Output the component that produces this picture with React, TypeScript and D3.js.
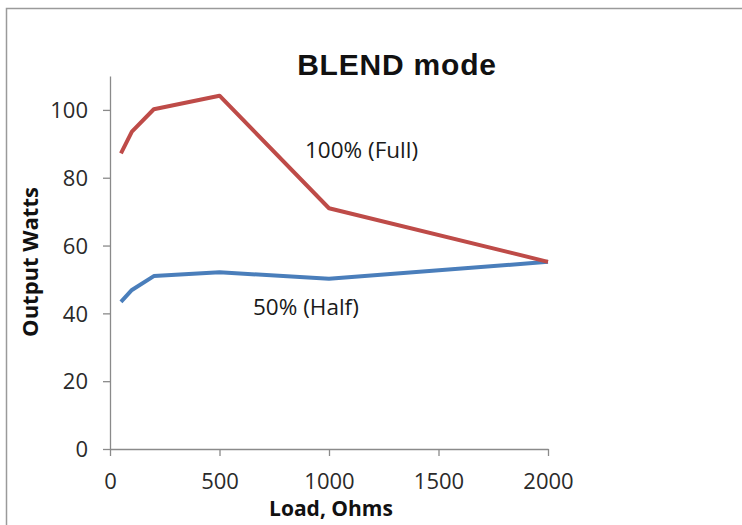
import React, { useEffect, useRef } from 'react';
import * as d3 from 'd3';

// Load in ohms and output power in watts
const loads = [50, 100, 200, 500, 1000, 2000];
const fullWatts = [87.2, 93.6, 100.2, 104.2, 71, 55.2];
const halfWatts = [43.4, 46.9, 51, 52.1, 50.2, 55.2];
const xTicks = [0, 500, 1000, 1500, 2000];
const yTicks = [0, 20, 40, 60, 80, 100];

const W = 742;
const H = 525;
const labelFont = "'Open Sans', 'Noto Sans', sans-serif";

const App: React.FC = () => {
  const svgRef = useRef<SVGSVGElement>(null);

  useEffect(() => {
    if (!svgRef.current) return;
    const svg = d3.select(svgRef.current);
    svg.selectAll('*').remove();

    const x = d3.scaleLinear().domain([0, 2000]).range([110, 548]);
    const y = d3.scaleLinear().domain([0, 110]).range([449, 76]);

    // frame (top and left edges only)
    svg.append('path')
      .attr('d', `M6.5,${H} V8.5 H${W}`)
      .attr('fill', 'none')
      .attr('stroke', '#9a9a9a')
      .attr('stroke-width', 1.5);

    const axisColor = '#8a8a8a';

    // y axis
    const gy = svg.append('g').attr('transform', `translate(${x(0)},0)`);
    gy.call(d3.axisLeft(y).tickValues(yTicks).tickSize(7).tickSizeOuter(0).tickFormat(d3.format('d')) as any);
    gy.select('.domain').attr('stroke', axisColor).attr('stroke-width', 1.3);
    gy.selectAll('.tick line').attr('stroke', axisColor).attr('stroke-width', 1.3);
    gy.selectAll('.tick text')
      .attr('x', -22)
      .attr('dy', '0.35em')
      .attr('fill', '#2a2a2a')
      .style('font-size', '22px')
      .style('font-family', labelFont);

    // x axis
    const gx = svg.append('g').attr('transform', `translate(0,${y(0)})`);
    gx.call(d3.axisBottom(x).tickValues(xTicks).tickSize(7).tickSizeOuter(0).tickFormat(d3.format('d')) as any);
    gx.select('.domain').attr('stroke', axisColor).attr('stroke-width', 1.3);
    gx.selectAll('.tick line').attr('stroke', axisColor).attr('stroke-width', 1.3);
    gx.selectAll('.tick text')
      .attr('y', 24)
      .attr('dy', '0.71em')
      .attr('fill', '#2a2a2a')
      .style('font-size', '22px')
      .style('font-family', labelFont);

    const line = d3.line<number>()
      .x((_, i) => x(loads[i]))
      .y(d => y(d));

    svg.append('path')
      .datum(halfWatts)
      .attr('d', line)
      .attr('fill', 'none')
      .attr('stroke', '#4a7ebb')
      .attr('stroke-width', 4)
      .attr('stroke-linejoin', 'round');

    svg.append('path')
      .datum(fullWatts)
      .attr('d', line)
      .attr('fill', 'none')
      .attr('stroke', '#be4b48')
      .attr('stroke-width', 4)
      .attr('stroke-linejoin', 'round');

    // title
    svg.append('text')
      .attr('x', 397)
      .attr('y', 75)
      .attr('text-anchor', 'middle')
      .style('font-family', "'Liberation Sans', Arial, sans-serif")
      .style('font-weight', 'bold')
      .style('font-size', '30px')
      .style('letter-spacing', '0.8px')
      .attr('fill', '#111')
      .text('BLEND mode');

    // series labels
    svg.append('text')
      .attr('x', 305)
      .attr('y', 158)
      .style('font-family', labelFont)
      .style('font-size', '22.5px')
      .attr('fill', '#1a1a1a')
      .text('100% (Full)');

    svg.append('text')
      .attr('x', 253)
      .attr('y', 315)
      .style('font-family', labelFont)
      .style('font-size', '22.5px')
      .attr('fill', '#1a1a1a')
      .text('50% (Half)');

    // axis titles
    svg.append('text')
      .attr('transform', `translate(38,${262}) rotate(-90)`)
      .attr('text-anchor', 'middle')
      .style('font-family', labelFont)
      .style('font-weight', 'bold')
      .style('font-size', '22px')
      .attr('fill', '#111')
      .text('Output Watts');

    svg.append('text')
      .attr('x', 331)
      .attr('y', 516)
      .attr('text-anchor', 'middle')
      .style('font-family', labelFont)
      .style('font-weight', 'bold')
      .style('font-size', '21px')
      .attr('fill', '#111')
      .text('Load, Ohms');
  }, []);

  return (
    <svg
      ref={svgRef}
      width={W}
      height={H}
      style={{ position: 'absolute', left: 0, top: 0, background: '#fff' }}
    />
  );
};

export default App;
